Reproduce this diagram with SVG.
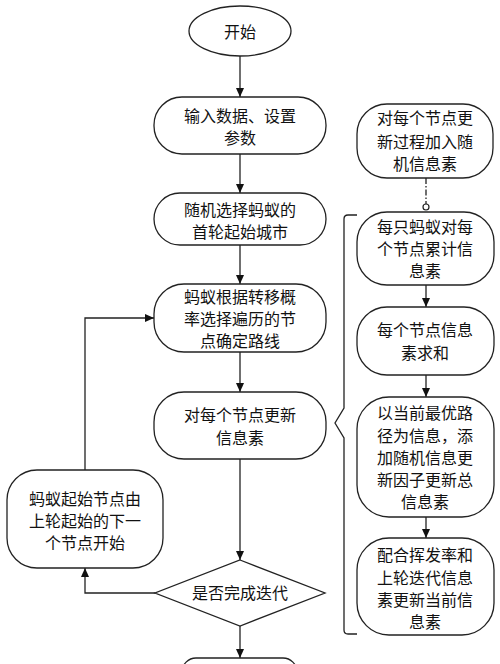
<svg xmlns="http://www.w3.org/2000/svg" width="500" height="664" viewBox="0 0 500 664">
<defs>
<style>
.n{fill:#fff;stroke:#222;stroke-width:1.3}
.t{font-family:"Noto Sans CJK SC","Noto Sans",sans-serif;font-size:16px;fill:#111;text-anchor:middle}
.c{fill:none;stroke:#222;stroke-width:1.3}
</style>
<marker id="a" markerUnits="userSpaceOnUse" markerWidth="9" markerHeight="10" refX="9" refY="4" orient="auto">
<path d="M0,0 L9,4 L0,8 Z" fill="#111"/>
</marker>
</defs>
<rect width="500" height="664" fill="#fff"/>
<g id="connectors">
<line class="c" x1="240" y1="56" x2="240" y2="97" marker-end="url(#a)"/>
<line class="c" x1="240" y1="154" x2="240" y2="193" marker-end="url(#a)"/>
<line class="c" x1="240" y1="245" x2="240" y2="284" marker-end="url(#a)"/>
<line class="c" x1="240" y1="352" x2="240" y2="392" marker-end="url(#a)"/>
<line class="c" x1="240" y1="459" x2="240" y2="560" marker-end="url(#a)"/>
<line class="c" x1="240" y1="626" x2="240" y2="658" marker-end="url(#a)"/>
<polyline class="c" points="155,593 85,593 85,568" marker-end="url(#a)"/>
<polyline class="c" points="85,470 85,318 154,318" marker-end="url(#a)"/>
<line class="c" x1="426" y1="178" x2="426" y2="204" stroke-dasharray="6,2,1.5,2"/>
<circle cx="426" cy="207" r="3" fill="#fff" stroke="#222" stroke-width="1.2"/>
<line class="c" x1="426" y1="285" x2="426" y2="307" marker-end="url(#a)"/>
<line class="c" x1="426" y1="375" x2="426" y2="397" marker-end="url(#a)"/>
<line class="c" x1="426" y1="517" x2="426" y2="538" marker-end="url(#a)"/>
<path class="c" d="M357,215 L348,215 Q344,215 344,219 L344,408 L335,423 L344,438 L344,630 Q344,634 348,634 L357,634"/>
</g>
<g id="start">
<ellipse class="n" cx="240" cy="31" rx="51" ry="25"/>
<text class="t" x="240" y="38">开始</text>
</g>
<g id="input">
<rect class="n" x="154" y="97" width="172" height="57" rx="28" ry="28"/>
<text class="t" x="240" y="122">输入数据、设置</text>
<text class="t" x="240" y="144">参数</text>
</g>
<g id="select">
<rect class="n" x="154" y="193" width="172" height="52" rx="26" ry="26"/>
<text class="t" x="240" y="216">随机选择蚂蚁的</text>
<text class="t" x="240" y="238">首轮起始城市</text>
</g>
<g id="route">
<rect class="n" x="154" y="284" width="172" height="68" rx="30" ry="30"/>
<text class="t" x="240" y="303">蚂蚁根据转移概</text>
<text class="t" x="240" y="325">率选择遍历的节</text>
<text class="t" x="240" y="347">点确定路线</text>
</g>
<g id="update">
<rect class="n" x="154" y="392" width="172" height="67" rx="30" ry="30"/>
<text class="t" x="240" y="421">对每个节点更新</text>
<text class="t" x="240" y="444">信息素</text>
</g>
<g id="decision">
<polygon class="n" points="240,560 325,593 240,626 155,593"/>
<text class="t" x="240" y="599">是否完成迭代</text>
</g>
<g id="end">
<rect class="n" x="182" y="658" width="115" height="30" rx="14" ry="14"/>
</g>
<g id="restart">
<rect class="n" x="7" y="470" width="156" height="98" rx="30" ry="30"/>
<text class="t" x="85" y="505">蚂蚁起始节点由</text>
<text class="t" x="85" y="527">上轮起始的下一</text>
<text class="t" x="85" y="549">个节点开始</text>
</g>
<g id="random">
<rect class="n" x="357" y="104" width="136" height="74" rx="30" ry="30"/>
<text class="t" x="425" y="124">对每个节点更</text>
<text class="t" x="425" y="148">新过程加入随</text>
<text class="t" x="425" y="170">机信息素</text>
</g>
<g id="accum">
<rect class="n" x="357" y="212" width="137" height="73" rx="30" ry="30"/>
<text class="t" x="425" y="233">每只蚂蚁对每</text>
<text class="t" x="425" y="255">个节点累计信</text>
<text class="t" x="425" y="277">息素</text>
</g>
<g id="sum">
<rect class="n" x="357" y="307" width="137" height="68" rx="30" ry="30"/>
<text class="t" x="425" y="336">每个节点信息</text>
<text class="t" x="425" y="359">素求和</text>
</g>
<g id="best">
<rect class="n" x="357" y="397" width="137" height="120" rx="32" ry="32"/>
<text class="t" x="425" y="419">以当前最优路</text>
<text class="t" x="425" y="442">径为信息，添</text>
<text class="t" x="425" y="464">加随机信息更</text>
<text class="t" x="425" y="486">新因子更新总</text>
<text class="t" x="425" y="508">信息素</text>
</g>
<g id="evap">
<rect class="n" x="357" y="538" width="137" height="97" rx="32" ry="32"/>
<text class="t" x="425" y="561">配合挥发率和</text>
<text class="t" x="425" y="584">上轮迭代信息</text>
<text class="t" x="425" y="606">素更新当前信</text>
<text class="t" x="425" y="628">息素</text>
</g>
</svg>
